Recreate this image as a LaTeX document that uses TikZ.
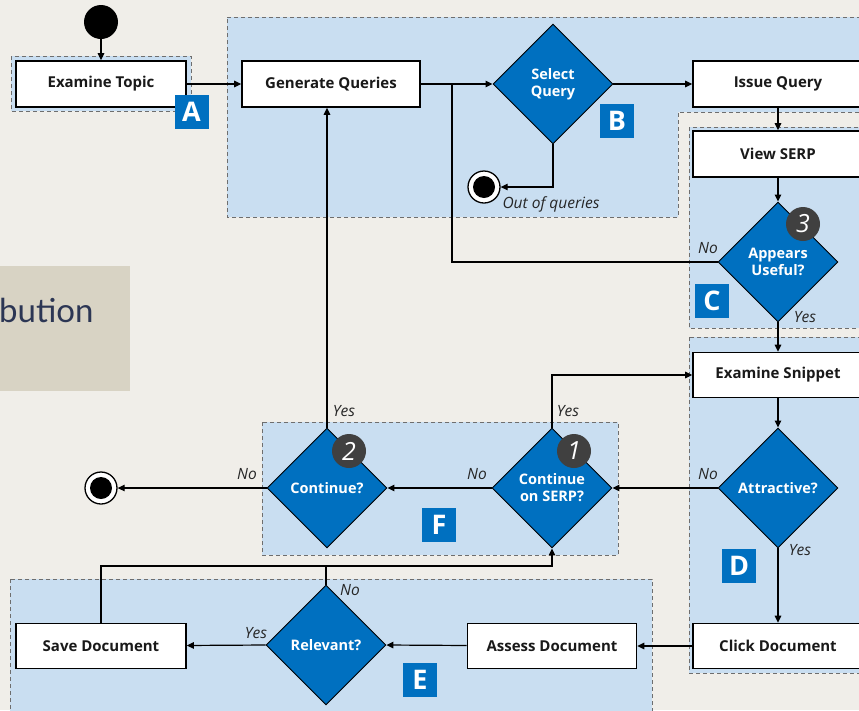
\documentclass[tikz,border=0pt]{standalone}
\usepackage{fontspec}
\setmainfont{Open Sans}
\newfontfamily\latofont{Lato}
\usetikzlibrary{shapes.geometric,arrows.meta}
\definecolor{bgc}{RGB}{240,238,233}
\definecolor{beige}{RGB}{216,211,196}
\definecolor{navy}{RGB}{44,54,84}
\definecolor{grpblue}{RGB}{201,222,241}
\definecolor{diablue}{RGB}{0,112,192}
\definecolor{badgec}{RGB}{64,64,64}
\definecolor{dashc}{RGB}{110,110,110}
\tikzset{
 box/.style={draw=black, line width=1.6pt, fill=white, minimum width=170pt, minimum height=46pt, inner sep=0pt, font=\fontsize{15}{17}\selectfont\bfseries, text=black!90},
 dia/.style={shape=diamond, aspect=1, draw=black, line width=0.9pt, fill=diablue, minimum width=120pt, minimum height=120pt, inner sep=0pt, text=white, align=center, font=\fontsize{14.5}{17}\selectfont\bfseries},
 grp/.style={fill=grpblue, draw=dashc, line width=0.9pt, dash pattern=on 4pt off 3pt},
 tag/.style={fill=diablue, minimum size=34pt, inner sep=0pt, text=white, font=\fontsize{27}{27}\selectfont\bfseries},
 badge/.style={circle, fill=badgec, minimum size=34pt, inner sep=0pt, text=white, font=\fontsize{25}{25}\selectfont\itshape},
 lbl/.style={inner sep=0pt, font=\fontsize{15.5}{17}\selectfont\itshape, text=black!85},
 arr/.style={line width=1.2pt, -{Triangle[length=7pt,width=6.5pt]}},
 ln/.style={line width=1.2pt},
 startnode/.style={circle, fill=black, minimum size=34pt, inner sep=0pt},
 endnode/.style={circle, draw=black, line width=1.3pt, fill=white, minimum size=32pt, inner sep=0pt, path picture={\fill[black] (path picture bounding box.center) circle (11pt);}},
}
\begin{document}
\begin{tikzpicture}[x=1pt,y=-1pt]
\useasboundingbox (0,0) rectangle (859,710);
\clip (0,0) rectangle (859,710);
\fill[bgc] (0,0) rectangle (859,710);
% side panel fragment
\fill[beige] (0,266) rectangle (130,391);
\node[anchor=base west, inner sep=0pt, text=navy, font=\latofont\fontsize{33}{33}\selectfont] (frag) at (-1,322) {bution};

% groups
\draw[grp] (11,56) rectangle (191,111);
\draw[grp] (227,17) -- (870,17) -- (870,112) -- (678,112) -- (678,217) -- (227,217) -- cycle;
\draw[grp] (689,127) rectangle (870,328);
\draw[grp] (689,337) rectangle (870,673);
\draw[grp] (262,422) rectangle (618,555);
\draw[grp] (10,579) rectangle (652,720);

% nodes
\node[startnode] (start) at (101,22) {};
\node[box] (topic) at (101,84) {Examine Topic};
\node[box, minimum width=178pt] (gen) at (331,84) {Generate Queries};
\node[dia] (select) at (553,84) {Select\\Query};
\node[box] (issue) at (778,84) {Issue Query};
\node[endnode] (e1) at (484,187) {};
\node[box] (view) at (778,154) {View SERP};
\node[dia] (useful) at (778,262) {Appears\\Useful?};
\node[box, minimum height=45pt] (snippet) at (778,375) {Examine Snippet};
\node[dia] (attr) at (778,488) {Attractive?};
\node[box, minimum height=45pt] (click) at (778,646) {Click Document};
\node[dia] (cserp) at (552,488) {Continue\\on SERP?};
\node[dia] (cont) at (327,488) {Continue?};
\node[endnode] (e2) at (101,488) {};
\node[box, minimum width=169pt, minimum height=45pt] (assess) at (552,646) {Assess Document};
\node[dia] (rel) at (326,645) {Relevant?};
\node[box, minimum height=45pt] (save) at (101,646) {Save Document};

\coordinate (j1) at (452,84);
\coordinate (j2) at (326,566);

% connectors
\draw[arr] (start) -- (topic.north);
\draw[arr] (topic) -- (gen);
\draw[arr] (gen) -- (select);
\draw[arr] (select) -- (issue);
\draw[arr] (select.south) |- (e1.east);
\draw[arr] (issue) -- (view);
\draw[arr] (view) -- (useful.north);
\draw[ln] (useful.west) -| (j1);
\draw[arr] (useful.south) -- (snippet.north);
\draw[arr] (snippet) -- (attr.north);
\draw[arr] (attr.south) -- (click.north);
\draw[arr] (attr.west) -- (cserp.east);
\draw[arr] (click) -- (assess);
\draw[arr] (assess) -- (rel.east);
\draw[arr] (rel.west) -- (save);
\draw[arr] (cserp.west) -- (cont.east);
\draw[arr] (cont.west) -- (e2.east);
\draw[arr] (cont.north) -- (cont.north |- gen.south);
\draw[arr] (cserp.north) |- (snippet.west);
\draw[arr] (save.north) |- (j2) -| (cserp.south);
\draw[ln] (rel.north) -- (j2);

% labels
\node[lbl] (l1) at (551,204) {Out of queries};
\node[lbl] (l2) at (708,248) {No};
\node[lbl] (l3) at (805,317) {Yes};
\node[lbl] (l4) at (708,474) {No};
\node[lbl] (l5) at (800,550) {Yes};
\node[lbl] (l6) at (477,474) {No};
\node[lbl] (l7) at (247,474) {No};
\node[lbl] (l8) at (344,411) {Yes};
\node[lbl] (l9) at (568,411) {Yes};
\node[lbl] (l10) at (350,590) {No};
\node[lbl] (l11) at (256,633) {Yes};

% tags
\node[tag] (tA) at (191.5,111.5) {A};
\node[tag] (tB) at (617,121) {B};
\node[tag] (tC) at (712,301) {C};
\node[tag] (tD) at (739,566) {D};
\node[tag] (tE) at (420,680) {E};
\node[tag] (tF) at (439,525) {F};

% badges
\node[badge] (b3) at (803,224) {3};
\node[badge] (b2) at (349,451) {2};
\node[badge] (b1) at (574,451) {1};
\end{tikzpicture}
\end{document}
